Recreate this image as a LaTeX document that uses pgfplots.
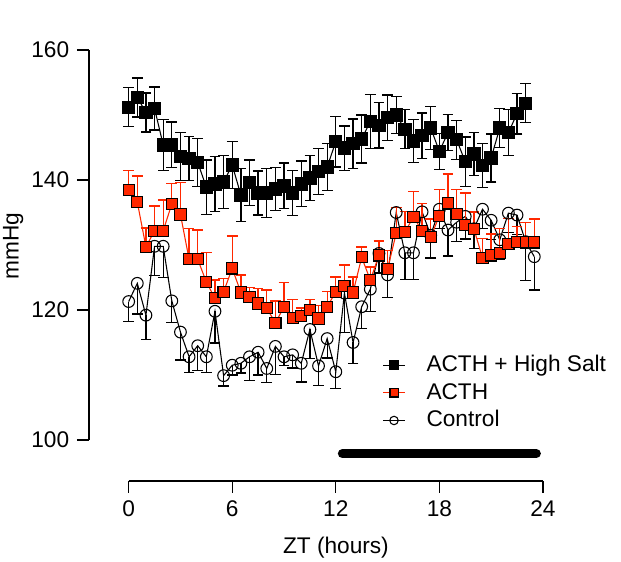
\documentclass[border=0pt]{standalone}
\usepackage{fontspec}
\setmainfont{Liberation Sans}
\usepackage{pgfplots}
\pgfplotsset{compat=1.18}
\definecolor{acthred}{RGB}{255,40,0}
\begin{document}
\fontsize{17}{20}\selectfont
\begin{tikzpicture}
\begin{axis}[
  scale only axis, width=340.5pt, height=323.25pt,
  xmin=-2.3, xmax=24, ymin=93.7, ymax=160,
  axis x line*=bottom, axis y line*=left,
  axis line style={draw=none},
  tick align=outside, major tick length=9pt,
  tick style={black, line width=0.9pt},
  xtick={0,6,12,18,24}, ytick={100,120,140,160},
  minor tick num=0,
  clip=false,
  /pgf/number format/assume math mode=true,
  xlabel={ZT (hours)}, ylabel={mmHg},
  every axis x label/.style={at={(rel axis cs:0.544,-0.155)},anchor=center},
  every axis y label/.style={at={(rel axis cs:-0.167,0.545)},anchor=center,rotate=90},
  legend style={at={(rel axis cs:0.638,0.304)}, anchor=north west, draw=none, fill=none, row sep=2pt, column sep=14pt, font=\fontsize{17}{20}\selectfont},
  legend cell align=left,
  reverse legend,
  legend image code/.code={\draw[mark repeat=2,mark phase=2,#1, every mark/.append style={scale=0.72}] plot coordinates {(0cm,0cm) (0.28cm,0cm) (0.56cm,0cm)};},
]
% Control
\addplot[black, line width=0.8pt, mark=o, mark size=4.4pt, mark options={fill=white, line width=0.8pt},
  error bars/.cd, y dir=minus, y explicit, error bar style={line width=1pt, black},
  error mark options={rotate=90, mark size=4pt, line width=1pt, black}]
coordinates {
(0,121.3) +- (0,3.1) (0.5,124.1) +- (0,4.7) (1,119.2) +- (0,3.7) (1.5,129.8) +- (0,4.5)
(2,129.8) +- (0,4.8) (2.5,121.4) +- (0,3.3) (3,116.6) +- (0,4.3) (3.5,112.8) +- (0,2.4)
(4,114.5) +- (0,3.8) (4.5,112.8) +- (0,2.4) (5,119.8) +- (0,4.9) (5.5,109.9) +- (0,1.6)
(6,111.5) +- (0,1.5) (6.5,111.8) +- (0,1.5) (7,112.8) +- (0,3.6) (7.5,113.5) +- (0,3.5)
(8,111.0) +- (0,2.2) (8.5,114.4) +- (0,4.3) (9,112.8) +- (0,1.3) (9.5,113.1) +- (0,2.0)
(10,111.8) +- (0,2.9) (10.5,117.0) +- (0,4.5) (11,111.4) +- (0,3.0) (11.5,115.6) +- (0,3.0)
(12,110.5) +- (0,2.6) (12.5,122.6) +- (0,6.1) (13,115.0) +- (0,3.2) (13.5,120.5) +- (0,3.3)
(14,123.2) +- (0,3.4) (14.5,128.7) +- (0,3.0) (15,125.4) +- (0,3.5) (15.5,135.0) +- (0,3.0)
(16,128.8) +- (0,4.1) (16.5,128.8) +- (0,4.1) (17,135.1) +- (0,3.0) (17.5,131.5) +- (0,3.5)
(18,135.5) +- (0,3.0) (18.5,132.3) +- (0,4.0) (19,133.5) +- (0,3.0) (19.5,134.4) +- (0,3.5)
(20,132.5) +- (0,3.0) (20.5,135.5) +- (0,3.0) (21,133.8) +- (0,3.0) (21.5,130.8) +- (0,3.0)
(22,134.9) +- (0,3.0) (22.5,134.6) +- (0,3.0) (23,130.5) +- (0,6.0) (23.5,128.2) +- (0,5.1)
};
\addlegendentry{Control}
% ACTH
\addplot[acthred, line width=0.8pt, mark=square*, mark size=4.2pt, mark options={fill=acthred, draw=black, line width=0.8pt},
  error bars/.cd, y dir=plus, y explicit, error bar style={line width=1pt, acthred},
  error mark options={rotate=90, mark size=4pt, line width=1pt, acthred}]
coordinates {
(0,138.5) +- (0,3.0) (0.5,136.6) +- (0,4.0) (1,129.7) +- (0,2.9) (1.5,132.2) +- (0,3.8)
(2,132.2) +- (0,4.7) (2.5,136.3) +- (0,3.2) (3,134.7) +- (0,4.9) (3.5,127.8) +- (0,4.7)
(4,127.8) +- (0,4.5) (4.5,124.3) +- (0,4.5) (5,121.8) +- (0,2.8) (5.5,122.8) +- (0,2.0)
(6,126.4) +- (0,5.0) (6.5,122.7) +- (0,2.7) (7,122.0) +- (0,1.5) (7.5,121.0) +- (0,2.3)
(8,120.3) +- (0,2.8) (8.5,118.0) +- (0,3.4) (9,120.5) +- (0,3.7) (9.5,118.8) +- (0,2.8)
(10,119.1) +- (0,1.2) (10.5,120.0) +- (0,1.6) (11,118.7) +- (0,2.0) (11.5,120.5) +- (0,2.3)
(12,122.8) +- (0,2.3) (12.5,123.7) +- (0,3.2) (13,122.7) +- (0,2.4) (13.5,128.1) +- (0,1.6)
(14,124.6) +- (0,2.0) (14.5,128.4) +- (0,2.2) (15,126.3) +- (0,2.9) (15.5,131.8) +- (0,4.0)
(16,132.0) +- (0,3.2) (16.5,134.3) +- (0,3.9) (17,132.2) +- (0,4.2) (17.5,131.2) +- (0,2.8)
(18,134.5) +- (0,4.0) (18.5,136.4) +- (0,4.5) (19,134.8) +- (0,3.7) (19.5,133.1) +- (0,4.9)
(20,132.5) +- (0,2.6) (20.5,128.0) +- (0,3.0) (21,128.4) +- (0,3.3) (21.5,128.8) +- (0,3.7)
(22,130.1) +- (0,4.0) (22.5,130.5) +- (0,2.3) (23,130.4) +- (0,3.1) (23.5,130.4) +- (0,3.6)
};
\addlegendentry{ACTH}
% ACTH + High Salt
\addplot[black, line width=0.8pt, mark=square*, mark size=4.6pt, mark options={fill=black, line width=0.8pt},
  error bars/.cd, y dir=both, y explicit, error bar style={line width=1pt, black},
  error mark options={rotate=90, mark size=4pt, line width=1pt, black}]
coordinates {
(0,151.2) +- (0,3.0) (0.5,152.7) +- (0,3.0) (1,150.4) +- (0,3.0) (1.5,151.0) +- (0,3.3)
(2,145.4) +- (0,3.9) (2.5,145.4) +- (0,3.5) (3,143.6) +- (0,3.7) (3.5,143.3) +- (0,3.4)
(4,142.7) +- (0,3.7) (4.5,138.9) +- (0,4.2) (5,139.4) +- (0,4.2) (5.5,139.7) +- (0,4.1)
(6,142.3) +- (0,3.6) (6.5,137.7) +- (0,4.1) (7,139.6) +- (0,3.5) (7.5,138.0) +- (0,3.4)
(8,138.0) +- (0,3.8) (8.5,138.6) +- (0,3.3) (9,139.1) +- (0,3.5) (9.5,138.0) +- (0,3.5)
(10,139.4) +- (0,3.5) (10.5,140.3) +- (0,3.5) (11,141.3) +- (0,3.5) (11.5,142.0) +- (0,3.6)
(12,145.9) +- (0,3.9) (12.5,144.9) +- (0,3.4) (13,145.6) +- (0,3.8) (13.5,146.3) +- (0,3.7)
(14,149.0) +- (0,4.2) (14.5,148.4) +- (0,3.5) (15,149.6) +- (0,3.5) (15.5,150.0) +- (0,2.8)
(16,147.8) +- (0,3.0) (16.5,146.0) +- (0,3.3) (17,146.8) +- (0,3.5) (17.5,148.0) +- (0,3.3)
(18,144.4) +- (0,2.8) (18.5,147.3) +- (0,2.8) (19,146.2) +- (0,3.0) (19.5,142.8) +- (0,3.8)
(20,144.0) +- (0,3.3) (20.5,142.2) +- (0,3.4) (21,143.4) +- (0,3.7) (21.5,148.0) +- (0,3.0)
(22,147.3) +- (0,3.5) (22.5,150.2) +- (0,3.1) (23,151.8) +- (0,3.0)
};
\addlegendentry{ACTH + High Salt}
% dark-phase bar
\addplot[black, line width=6.75pt, line cap=round, forget plot] coordinates {(12.38,97.9) (23.62,97.9)};
% axis lines
\draw[line width=0.9pt] (axis cs:-2.3,100) -- (axis cs:-2.3,160);
\draw[line width=0.9pt] (axis cs:0,93.7) -- (axis cs:24,93.7);
\coordinate (bbsw) at (rel axis cs:-0.196,-0.188);
\coordinate (bbne) at (rel axis cs:1.172,1.116);
\end{axis}
\pgfresetboundingbox
\path[use as bounding box] (bbsw) rectangle (bbne);
\end{tikzpicture}
\end{document}
